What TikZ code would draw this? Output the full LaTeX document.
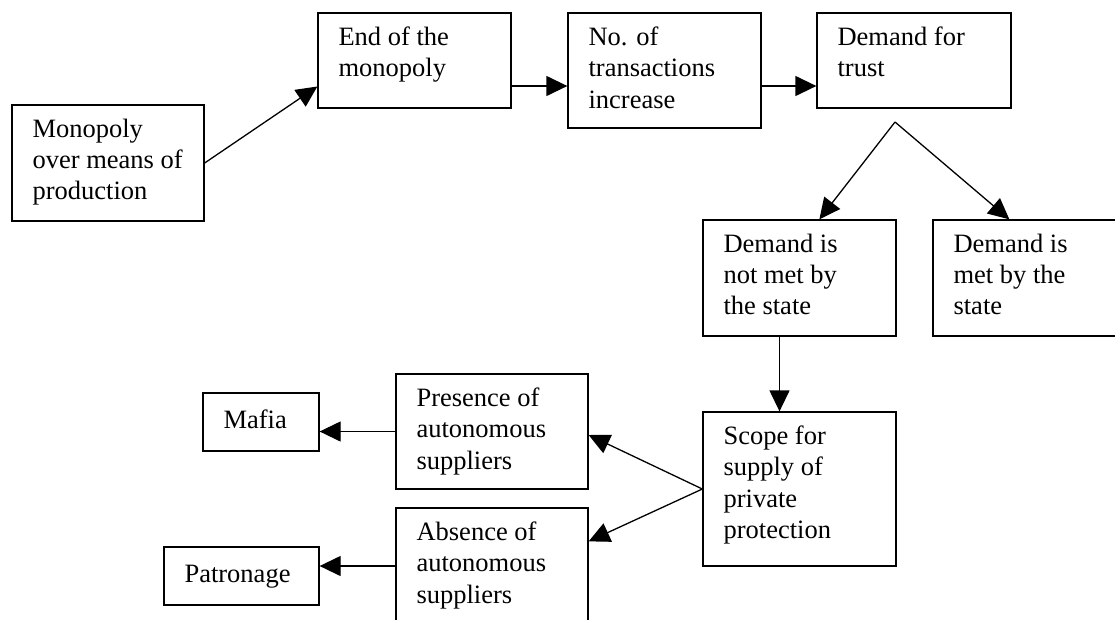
\documentclass[tikz,border=0pt]{standalone}
\usepackage{fontspec}
\setmainfont{Liberation Serif}
\usetikzlibrary{arrows.meta,calc}
\tikzset{
  box/.style={draw, line width=1.3pt, inner sep=0pt, minimum width=#1},
  box/.default=193pt,
  txt/.style={anchor=north west, inner sep=0pt, align=left,
    font=\fontsize{26.5}{31.3}\selectfont, execute at begin node=\strut},
  arr/.style={line width=1.3pt, -{Triangle[length=21pt,width=20pt]}}
}
\newcommand{\boxtext}[3]{\node[txt] (#1) at ([shift={(21pt,-14.3pt)}]#2.north west) {#3};}
\begin{document}
\begin{tikzpicture}[x=1pt,y=-1pt]
\clip (0,0) rectangle (1115,619);
\fill[white] (0,0) rectangle (1115,619);
% boxes
\node[box=192pt, minimum height=116pt] (mono) at (108,163) {};
\node[box, minimum height=95pt] (endm) at (414.5,60.5) {};
\node[box, minimum height=115pt] (notr) at (664.5,70.5) {};
\node[box=194pt, minimum height=95pt] (trust) at (914,60.5) {};
\node[box, minimum height=116pt] (notmet) at (799.5,278) {};
\node[box, minimum height=116pt] (met) at (1029.5,278) {};
\node[box, minimum height=154pt] (scope) at (799.5,489) {};
\node[box=192pt, minimum height=115pt] (pres) at (492,431.5) {};
\node[box=192pt, minimum height=115pt] (abs) at (492,565.5) {};
\node[box=116pt, minimum height=58pt] (mafia) at (261,422) {};
\node[box=155pt, minimum height=58pt] (patr) at (241.5,576) {};
% texts
\boxtext{tmono}{mono}{Monopoly\\over means of\\production}
\boxtext{tendm}{endm}{End of the\\monopoly}
\boxtext{tnotr}{notr}{No. of\\transactions\\increase}
\boxtext{ttrust}{trust}{Demand for\\trust}
\boxtext{tnotmet}{notmet}{Demand is\\not met by\\the state}
\boxtext{tmet}{met}{Demand is\\met by the\\state}
\boxtext{tscope}{scope}{Scope for\\supply of\\private\\protection}
\boxtext{tpres}{pres}{Presence of\\autonomous\\suppliers}
\boxtext{tabs}{abs}{Absence of\\autonomous\\suppliers}
\boxtext{tmafia}{mafia}{Mafia}
\boxtext{tpatr}{patr}{Patronage}
% connectors
\draw[arr] (mono.east) -- ([yshift=-26pt]endm.west);
\coordinate (a1) at ([yshift=-25.5pt]endm.east);
\draw[arr] (a1) -- (a1 -| notr.west);
\coordinate (a2) at ([yshift=-15.5pt]notr.east);
\draw[arr] (a2) -- (a2 -| trust.west);
\coordinate (split) at (895,122);
\draw[arr] (split) -- ([xshift=117pt]notmet.north west);
\draw[arr] (split) -- ([xshift=77pt]met.north west);
\coordinate (a3) at ([xshift=-20pt]notmet.south);
\draw[arr] (a3) -- (a3 |- scope.north);
\draw[arr] (scope.west) -- ([yshift=-3.5pt]pres.east);
\draw[arr] (scope.west) -- ([yshift=-34pt]abs.north east);
\draw[arr] (pres.west) -- (pres.west -| mafia.east);
\coordinate (a4) at ([yshift=10pt]patr.east);
\draw[arr] (a4 -| abs.west) -- (a4);
\end{tikzpicture}
\end{document}
